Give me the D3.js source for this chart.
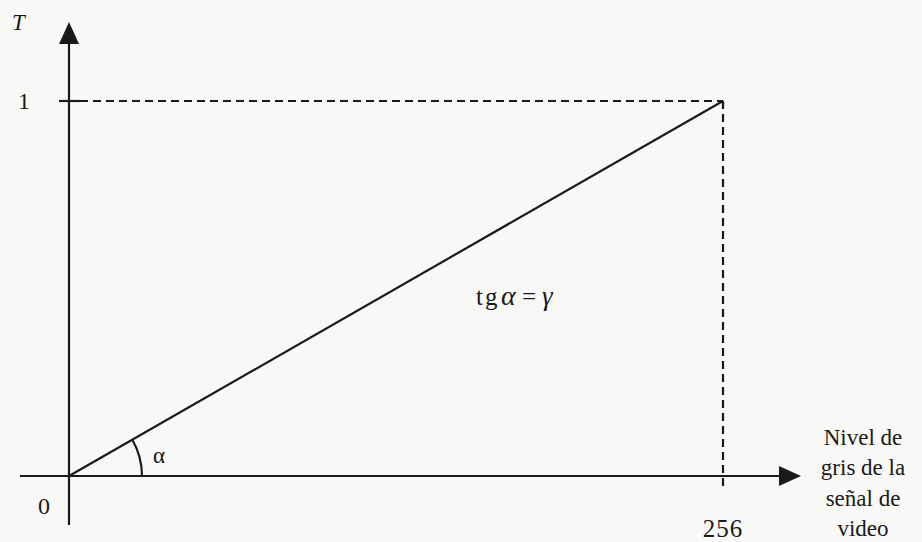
<!DOCTYPE html>
<html>
<head>
<meta charset="utf-8">
<script src="https://cdn.jsdelivr.net/npm/d3@7"></script>
<style>
  html, body { margin: 0; padding: 0; background: #f8f8f6; }
  svg { display: block; }
</style>
</head>
<body>
<svg id="chart" width="922" height="542"></svg>
<script>
// Transfer curve: T as a function of the video grey level
const grayLevels = [0, 256];
const transfer = [0, 1];
const xTickLabels = ["0", "256"];
const yTickLabels = ["0", "1"];
const xTitleLines = ["Nivel de", "gris de la", "señal de", "video"];
const yTitle = "T";

const ink = "#1a1a1a";
const svg = d3.select("#chart")
  .attr("font-family", "'Liberation Serif', 'Times New Roman', Times, 'DejaVu Serif', serif")
  .attr("fill", ink);

const x = d3.scaleLinear().domain([0, 256]).range([69, 723]);
const y = d3.scaleLinear().domain([0, 1]).range([476, 101]);

const x0 = x(0), y0 = y(0);

// Axes with arrow heads
svg.append("line").attr("x1", 20).attr("x2", 785).attr("y1", y0).attr("y2", y0)
  .attr("stroke", ink).attr("stroke-width", 2.2);
svg.append("line").attr("x1", x0).attr("x2", x0).attr("y1", 525).attr("y2", 38)
  .attr("stroke", ink).attr("stroke-width", 2.2);
svg.append("path")
  .attr("d", `M${x0},22 L${x0 - 10},44 L${x0 + 10},44 Z`).attr("fill", ink);
svg.append("path")
  .attr("d", `M801,${y0} L779,${y0 - 10} L779,${y0 + 10} Z`).attr("fill", ink);

// Tick mark at T = 1
svg.append("line").attr("x1", 59).attr("x2", 80).attr("y1", y(1)).attr("y2", y(1))
  .attr("stroke", ink).attr("stroke-width", 2.2);

// Dashed guides
svg.append("line").attr("x1", 80).attr("x2", x(256)).attr("y1", y(1)).attr("y2", y(1))
  .attr("stroke", ink).attr("stroke-width", 2.2).attr("stroke-dasharray", "8,5");
svg.append("line").attr("x1", x(256)).attr("x2", x(256)).attr("y1", y(1)).attr("y2", 490)
  .attr("stroke", ink).attr("stroke-width", 2.2).attr("stroke-dasharray", "8,5");

// Transfer line
const line = d3.line().x((d, i) => x(grayLevels[i])).y(d => y(d));
svg.append("path").datum(transfer).attr("d", line)
  .attr("fill", "none").attr("stroke", ink).attr("stroke-width", 2.2);

// Angle arc alpha
const ang = Math.atan2(y0 - y(1), x(256) - x0);
const r = 73;
svg.append("path")
  .attr("d", `M${x0 + r},${y0} A${r},${r} 0 0 0 ${x0 + r * Math.cos(ang)},${y0 - r * Math.sin(ang)}`)
  .attr("fill", "none").attr("stroke", ink).attr("stroke-width", 2.2);
svg.append("text").attr("x", 153).attr("y", 463).attr("font-size", 23).text("α");

// Tick labels
svg.append("text").attr("x", 24).attr("y", 109).attr("text-anchor", "middle")
  .attr("font-size", 24).text(yTickLabels[1]);
svg.append("text").attr("x", 44).attr("y", 514).attr("text-anchor", "middle")
  .attr("font-size", 24).text(xTickLabels[0]);
svg.append("text").attr("x", x(256)).attr("y", 537).attr("text-anchor", "middle")
  .attr("font-size", 25).attr("letter-spacing", 1).text(xTickLabels[1]);

// Axis titles
svg.append("text").attr("x", 12).attr("y", 30).attr("font-size", 23)
  .attr("font-style", "italic").text(yTitle);
const xt = svg.append("text").attr("text-anchor", "middle").attr("font-size", 23);
xTitleLines.forEach((s, i) => {
  xt.append("tspan").attr("x", 863).attr("y", 445 + i * 30.3).text(s);
});

// Slope annotation
const fy = 305;
svg.append("text").attr("x", 476).attr("y", fy).attr("font-size", 25)
  .attr("letter-spacing", 2).text("tg");
svg.append("text").attr("x", 501).attr("y", fy).attr("font-size", 28)
  .attr("font-style", "italic").text("α");
svg.append("text").attr("x", 522).attr("y", fy).attr("font-size", 25).text("=");
svg.append("text").attr("x", 542).attr("y", fy).attr("font-size", 27)
  .attr("font-style", "italic").text("γ");
</script>
</body>
</html>
